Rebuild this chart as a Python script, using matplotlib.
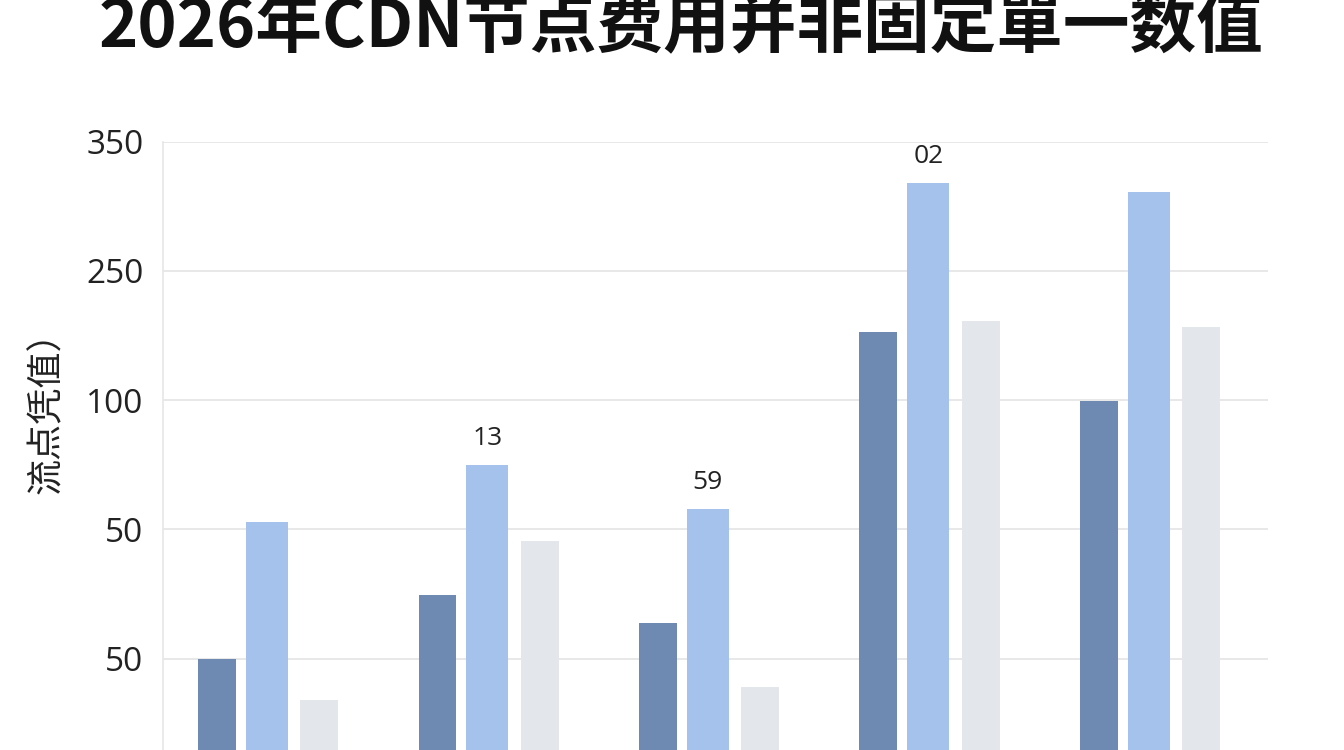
import matplotlib
matplotlib.use("Agg")
import matplotlib.pyplot as plt
import numpy as np

# ---- data ----
TITLE = "2026年CDN节点费用并非固定單一数值"
Y_LABEL = "流点凭值）"
SERIES_DARK = [50.0, 74.6, 63.7, 176.5, 149.8]
SERIES_LIGHT = [102.8, 124.9, 107.9, 234.2, 230.5]
SERIES_GREY = [33.9, 95.3, 39.0, 180.8, 178.1]
LIGHT_BAR_LABELS = ["", "13", "59", "02", ""]
Y_TICKS = [50, 100, 150, 200, 250]
Y_TICK_LABELS = ["50", "50", "100", "250", "350"]

COL_DARK = "#6e8ab2"
COL_LIGHT = "#a4c2ec"
COL_GREY = "#e3e6eb"

W, H = 1344, 750
fig = plt.figure(figsize=(W / 100, H / 100), dpi=100)
fig.patch.set_facecolor("white")

ax = fig.add_axes([163 / W, 0.0, (1268 - 163) / W, (H - 141.7) / H])
x = np.arange(len(SERIES_DARK))
bw = 0.172
off = 0.238
ax.bar(x - off + 0.012, SERIES_DARK, width=bw, color=COL_DARK, zorder=3)
bl = ax.bar(x, SERIES_LIGHT, width=bw * 1.1, color=COL_LIGHT, zorder=3)
ax.bar(x + off, SERIES_GREY, width=bw, color=COL_GREY, zorder=3)

for rect, lab in zip(bl, LIGHT_BAR_LABELS):
    if lab:
        ax.annotate(lab, (rect.get_x() + rect.get_width() / 2, rect.get_height()),
                    xytext=(0, 19), textcoords="offset points",
                    ha="center", va="center", fontsize=19,
                    family=["Open Sans", "DejaVu Sans"], color="#222222")

ax.set_xlim(-0.471, 4.541)
ax.set_ylim(14.6, 250)
ax.set_xticks([])
ax.set_yticks(Y_TICKS)
ax.set_yticklabels(Y_TICK_LABELS, family=["Open Sans", "DejaVu Sans"],
                   fontsize=24, color="#222222")
ax.tick_params(axis="y", length=0, pad=14)
ax.grid(axis="y", color="#e4e4e4", linewidth=1.2, zorder=0)
for s in ["top", "right", "bottom"]:
    ax.spines[s].set_visible(False)
ax.spines["left"].set_color("#e6e6e6")
ax.spines["left"].set_linewidth(1.2)

fig.text(47 / W, 1 - 404 / H, Y_LABEL, rotation=90, ha="center", va="center",
         fontsize=26, family=["Noto Sans CJK SC", "DejaVu Sans"], color="#222222")

fig.text(681 / W, 1 - 47 / H, TITLE, ha="center", va="baseline",
         fontsize=48, fontweight="heavy",
         family=["Noto Sans CJK SC", "DejaVu Sans"], color="#111111")

fig.savefig("out.png", dpi=100, facecolor="white")
